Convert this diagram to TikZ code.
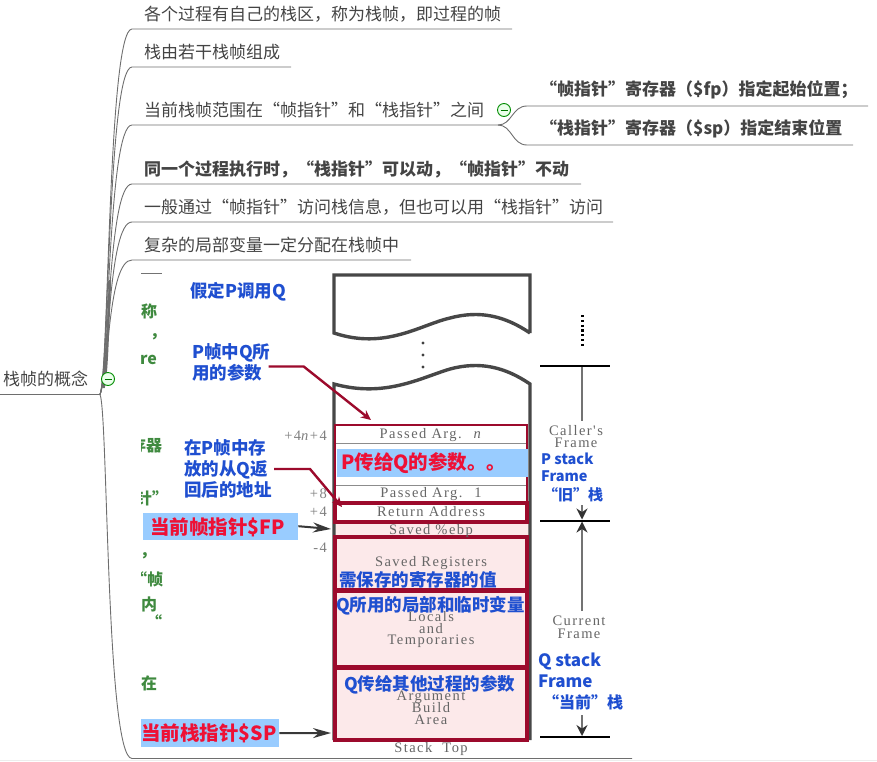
\documentclass[tikz,border=0pt]{standalone}
\usepackage{fontspec}
\setmainfont{Noto Sans CJK SC}
\newfontfamily\stackfont[LetterSpace=10]{Liberation Serif}
\usetikzlibrary{positioning,arrows.meta,calc}
\definecolor{linegray}{HTML}{6E6E6E}
\definecolor{txtgray}{HTML}{444444}
\definecolor{darkred}{HTML}{9C0A2C}
\definecolor{pinkfill}{HTML}{FCE9EA}
\definecolor{skyfill}{HTML}{99CCFF}
\definecolor{noteblue}{HTML}{1F4FD0}
\definecolor{notered}{HTML}{EE1035}
\definecolor{cutgreen}{HTML}{3F8A3F}
\tikzset{
  leaf/.style={anchor=west, inner sep=0pt, text=txtgray, font=\fontsize{17}{20}\selectfont},
  boldleaf/.style={leaf, font=\fontsize{17}{20}\selectfont\bfseries},
  branch/.style={draw=linegray, line width=0.9pt},
  minusdot/.style={circle, draw=green!55!black, fill=green!8, minimum size=13pt, inner sep=0pt, line width=0.9pt},
  wall/.style={draw=black!72, line width=3.4pt},
  redbox/.style={draw=darkred, line width=3.2pt, fill=pinkfill},
  cell/.style={inner sep=0pt, text=black!60, font=\fontsize{14.5}{15}\stackfont},
  offset/.style={anchor=east, inner sep=0pt, text=black!50, font=\fontsize{14.5}{15}\stackfont},
  bluenote/.style={anchor=west, inner sep=0pt, align=left, text=noteblue, font=\fontsize{17.5}{21}\selectfont\bfseries},
  rednote/.style={anchor=west, inner sep=0pt, text=notered, font=\fontsize{19.5}{21}\selectfont\bfseries},
  cut/.style={anchor=west, inner sep=0pt, text=cutgreen, font=\fontsize{16}{20}\selectfont\bfseries},
  skybox/.style={fill=skyfill, draw=none, inner sep=0pt},
  redarrow/.style={draw=darkred, line width=2.4pt, -{Stealth[length=10pt,width=9pt]}},
  ptrarrow/.style={draw=black!78, line width=2pt, -{Stealth[length=18pt,width=10pt]}},
  framearrow/.style={draw=black!55, line width=1.8pt, -{Stealth[length=11pt,width=11pt,black!80]}},
  tick/.style={draw=black, line width=2pt}
}
\begin{document}
\begin{tikzpicture}[x=1pt,y=-1pt]
\useasboundingbox (0,0) rectangle (877,761);
% mind map branches
\node[leaf] (root) at (3,379) {栈帧的概念};
\coordinate (fork) at (100,394.5);
\draw[branch] (0,394.5) coordinate (rootstart) -- (fork);
\foreach \i/\y/\xe/\style/\label in {1/29/512/leaf/各个过程有自己的栈区，称为栈帧，即过程的帧,
  2/67/291/leaf/栈由若干栈帧组成,
  3/125/498/leaf/当前栈帧范围在“帧指针”和“栈指针”之间,
  4/184/581/boldleaf/同一个过程执行时，“栈指针”可以动，“帧指针”不动,
  5/222/613/leaf/一般通过“帧指针”访问栈信息，但也可以用“栈指针”访问,
  6/260/411/leaf/复杂的局部变量一定分配在栈帧中}{
\node[\style] (item\i) at (144,\y-15) {\label};
\coordinate (start\i) at (132,\y);
\coordinate (end\i) at (\xe,\y);
\draw[branch] (fork) .. controls (109,372) and (108,\y) .. (start\i) -- (end\i);}
\coordinate (start7) at (132,758.5);
\coordinate (end7) at (632,758.5);
\draw[branch] (fork) .. controls (108,412) and (106,758) .. (start7) -- (end7);
\draw[linegray,line width=2.4pt] (103.5,388) .. controls (107,372) and (107.5,340) .. (110,280);
\node[minusdot] (rootdot) at (108,379) {};
\draw[green!45!black,line width=1pt] ($(rootdot)+(-3.5,0)$) -- ($(rootdot)+(3.5,0)$);
% sub branches
\node[boldleaf] (fpreg) at (540,90) {“帧指针”寄存器（\$fp）指定起始位置；};
\node[boldleaf] (spreg) at (540,129) {“栈指针”寄存器（\$sp）指定结束位置};
\coordinate (fpstart) at (527,106);
\coordinate (fpend) at (868,106);
\coordinate (spstart) at (527,145);
\coordinate (spend) at (853,145);
\draw[branch] (end3) .. controls (512,125) and (512,106) .. (fpstart) -- (fpend);
\draw[branch] (end3) .. controls (512,125) and (512,145) .. (spstart) -- (spend);
\node[minusdot] (subdot) at (504,110) {};
\draw[green!45!black,line width=1pt] ($(subdot)+(-3.5,0)$) -- ($(subdot)+(3.5,0)$);
% window edge at the bottom
\fill[black!7] (0,759.5) rectangle (877,761);
% pasted figure with its cut off left edge
\fill[white] (141,268) rectangle (625,757);
\begin{scope}
\clip (141,268) rectangle (625,757);
\draw[black!55,line width=0.8pt] (141,273) -- (162,273);
\foreach \x/\y/\label in {141/311/称,150/337/，,140/360/re,130/445/存器,136/498/针”,140/556/，,131/579/“帧,141/604/内,146/622/“,141/683/在}{
\node[cut] at (\x,\y) {\label};}
\end{scope}
% stack walls
\draw[wall] (530,333) -- (530,275) -- (334,275) -- (334,333) .. controls (385,350) and (420,325) .. (450,318) .. controls (480,310) and (505,316) .. (530,333);
\foreach \y in {343,355,367}{
\fill[black!75] (423,\y) circle (1.6pt);}
\fill[pinkfill] (334,522) rectangle (530,740);
\draw[wall] (334,740) -- (334,384) .. controls (385,398) and (420,378) .. (450,369) .. controls (480,361) and (505,367) .. (530,384) -- (530,740);
% stack cells
\draw[darkred,line width=1.4pt,fill=white] (335,425) rectangle (527,502);
\draw[black!45,line width=0.8pt] (336,443) -- (526,443);
\draw[black!45,line width=0.8pt] (336,485) -- (526,485);
\draw[redbox,fill=white] (335,503) rectangle (527,522);
\draw[redbox] (335,537) rectangle (527,590);
\draw[redbox] (335,591) rectangle (527,667);
\draw[redbox] (335,668) rectangle (527,740);
\foreach \y/\label in {435/Passed Arg. \ \textit{n},494/Passed Arg. \ 1,512/Return Address,531/Saved \%ebp,563/Saved Registers,617/Locals,629/and,641/Temporaries,697/Argument,708/Build,720/Area,749/Stack \ Top}{
\node[cell] at (431,\y) {\label};}
\node[cell] at (576,431) {Caller's};
\node[cell] at (576,443) {Frame};
\node[cell] at (579,621) {Current};
\node[cell] at (579,634) {Frame};
\foreach \y/\label in {436/+4\textit{n}+4,494/+8,512/+4,548/-4}{
\node[offset] at (327,\y) {\label};}
% notes on the figure
\node[skybox,minimum width=191pt,minimum height=28pt,anchor=north west] (pbox) at (337,449) {};
\node[rednote] (ptoq) at (341,463) {P传给Q的参数。。};
\node[skybox,minimum width=155pt,minimum height=27pt,anchor=north west] (fpbox) at (143,513) {};
\node[rednote] (fptext) at (150,527) {当前帧指针\$FP};
\node[skybox,minimum width=138pt,minimum height=28pt,anchor=north west] (spbox) at (141,719) {};
\node[rednote] (sptext) at (141,733) {当前栈指针\$SP};
\node[bluenote] (assume) at (190,292) {假定P调用Q};
\node[bluenote] (pargs) at (192,362.5) {P帧中Q所\\用的参数};
\node[bluenote] (retaddr) at (184,469) {在P帧中存\\放的从Q返\\回后的地址};
\node[bluenote] (saveregs) at (339,580) {需保存的寄存器的值};
\node[bluenote] (locals) at (336,606) {Q所用的局部和临时变量};
\node[bluenote] (qargs) at (344,685) {Q传给其他过程的参数};
\node[bluenote,font=\fontsize{14.5}{17}\selectfont\bfseries] (pframe) at (541,467.5) {P stack\\Frame};
\node[bluenote,font=\fontsize{15}{17}\selectfont\bfseries] (oldstack) at (543,495) {“旧”栈};
\node[bluenote,font=\fontsize{17}{21}\selectfont\bfseries] (qframe) at (538,670.5) {Q stack\\Frame};
\node[bluenote,font=\fontsize{16}{17}\selectfont\bfseries] (curstack) at (543,702) {“当前”栈};
% connectors
\coordinate (pargtip) at (371,420);
\coordinate (retstart) at (274,469);
\coordinate (rettip) at (342,507);
\coordinate (fptip) at (331,529);
\coordinate (sptip) at (331,733);
\draw[redarrow] (pargs.east)++(-2,4) -- ++(35,0) -- (pargtip);
\draw[redarrow] (retstart) -- ++(36,0) -- (rettip);
\draw[ptrarrow] (fpbox.east) ++(0,-0.5) -- (fptip);
\draw[ptrarrow] (spbox.east) -- (sptip);
% frame marks on the right
\foreach \y in {365.5,520.5,737}{
\draw[tick] (540,\y) -- (610,\y);}
\draw[black,line width=2.2pt,dash pattern=on 2.2pt off 2.6pt] (582.5,315) -- (582.5,347);
\draw[black!55,line width=1.8pt] (582,367) -- (582,421);
\coordinate (oldtip) at (582,519.5);
\coordinate (curtip) at (582,521.5);
\coordinate (qtip) at (582,736);
\draw[framearrow] (582,505) -- (oldtip);
\draw[framearrow] (582,611) -- (curtip);
\draw[framearrow] (582,715) -- (qtip);
\end{tikzpicture}
\end{document}
